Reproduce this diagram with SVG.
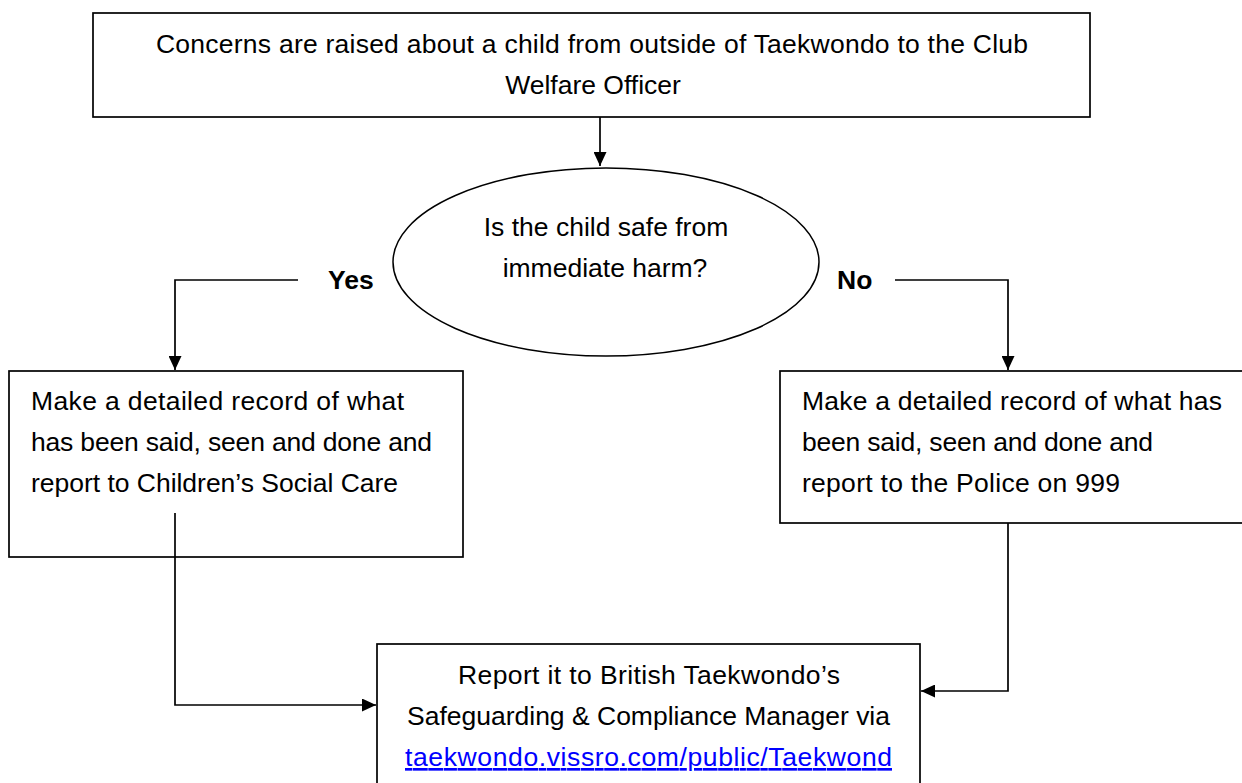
<svg xmlns="http://www.w3.org/2000/svg" width="1242" height="783" viewBox="0 0 1242 783">
<style>
.box{fill:#fff;stroke:#000;stroke-width:1.7}
.t{font-family:"Liberation Sans",Arial,sans-serif;font-size:26.5px;fill:#000}
.c{text-anchor:middle}
.b{font-weight:bold}
.link{fill:#0000ff;text-decoration:underline}
.con{fill:none;stroke:#000;stroke-width:1.7}
</style>
<defs>
<marker id="ah" markerUnits="userSpaceOnUse" markerWidth="14" markerHeight="13" refX="14" refY="6.5" orient="auto">
<path d="M0,0 L14,6.5 L0,13 z" fill="#000"/>
</marker>
</defs>
<rect width="1242" height="783" fill="#fff"/>
<g id="connectors">
<path class="con" d="M600,117 V166" marker-end="url(#ah)"/>
<path class="con" d="M298,280 H175 V370" marker-end="url(#ah)"/>
<path class="con" d="M895,280 H1008 V370" marker-end="url(#ah)"/>
<path class="con" d="M175,513 V705 H376" marker-end="url(#ah)"/>
<path class="con" d="M1008,523 V691 H921" marker-end="url(#ah)"/>
</g>
<g id="start">
<rect class="box" x="93" y="13" width="997" height="104"/>
<text class="t c" x="592" y="53" textLength="872" lengthAdjust="spacing">Concerns are raised about a child from outside of Taekwondo to the Club</text>
<text class="t c" x="593" y="94">Welfare Officer</text>
</g>
<g id="decision">
<ellipse cx="606" cy="262" rx="213" ry="94" fill="#fff" stroke="#000" stroke-width="1.5"/>
<text class="t c" x="606" y="236">Is the child safe from</text>
<text class="t c" x="605" y="277">immediate harm?</text>
</g>
<g id="label-yes"><text class="t b" x="328" y="289">Yes</text></g>
<g id="label-no"><text class="t b" x="837" y="289">No</text></g>
<g id="yes-box">
<rect class="box" x="9" y="371" width="454" height="186"/>
<text class="t" x="31" y="410" textLength="373" lengthAdjust="spacing">Make a detailed record of what</text>
<text class="t" x="31" y="451" textLength="401" lengthAdjust="spacing">has been said, seen and done and</text>
<text class="t" x="31" y="492" textLength="367" lengthAdjust="spacing">report to Children’s Social Care</text>
</g>
<g id="no-box">
<rect class="box" x="780" y="371" width="480" height="152"/>
<text class="t" x="802" y="410" textLength="420" lengthAdjust="spacing">Make a detailed record of what has</text>
<text class="t" x="802" y="451" textLength="351" lengthAdjust="spacing">been said, seen and done and</text>
<text class="t" x="802" y="492" textLength="318" lengthAdjust="spacing">report to the Police on 999</text>
</g>
<g id="report-box">
<rect class="box" x="377" y="644" width="543" height="160"/>
<text class="t c" x="649" y="684" textLength="382" lengthAdjust="spacing">Report it to British Taekwondo’s</text>
<text class="t c" x="648.5" y="725" textLength="483" lengthAdjust="spacing">Safeguarding &amp; Compliance Manager via</text>
<text class="t c link" x="648.5" y="766" textLength="487" lengthAdjust="spacing">taekwondo.vissro.com/public/Taekwond</text>
</g>
<path class="con" d="M175,513 V557"/>
</svg>
